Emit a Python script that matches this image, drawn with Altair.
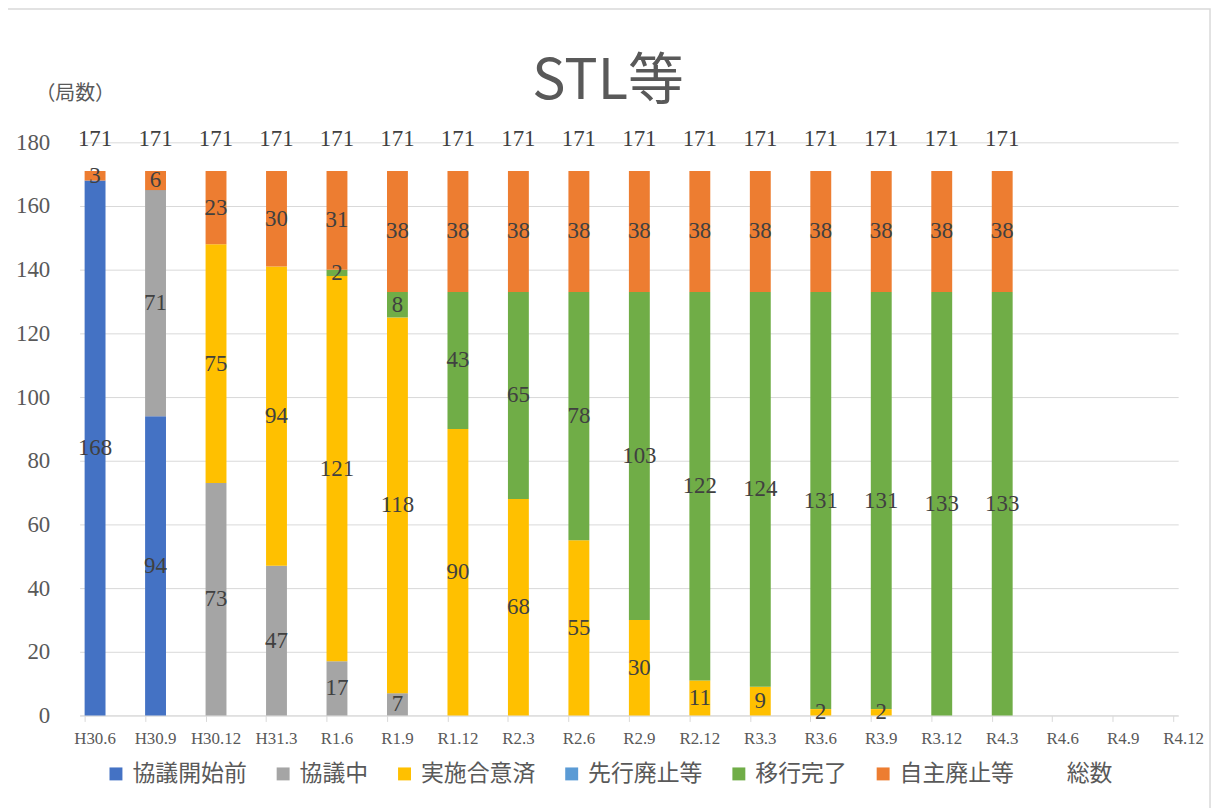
import json
import altair as alt
import pandas as pd

categories = ["H30.6", "H30.9", "H30.12", "H31.3", "R1.6", "R1.9", "R1.12", "R2.3", "R2.6",
              "R2.9", "R2.12", "R3.3", "R3.6", "R3.9", "R3.12", "R4.3", "R4.6", "R4.9", "R4.12"]

series_names = ["協議開始前", "協議中", "実施合意済", "先行廃止等", "移行完了", "自主廃止等"]
s_before = [168, 94, 0, 0, 0, 0, 0, 0, 0, 0, 0, 0, 0, 0, 0, 0, 0, 0, 0]
s_during = [0, 71, 73, 47, 17, 7, 0, 0, 0, 0, 0, 0, 0, 0, 0, 0, 0, 0, 0]
s_agreed = [0, 0, 75, 94, 121, 118, 90, 68, 55, 30, 11, 9, 2, 2, 0, 0, 0, 0, 0]
s_early = [0, 0, 0, 0, 0, 0, 0, 0, 0, 0, 0, 0, 0, 0, 0, 0, 0, 0, 0]
s_done = [0, 0, 0, 0, 2, 8, 43, 65, 78, 103, 122, 124, 131, 131, 133, 133, 0, 0, 0]
s_self = [3, 6, 23, 30, 31, 38, 38, 38, 38, 38, 38, 38, 38, 38, 38, 38, 0, 0, 0]
totals = [171, 171, 171, 171, 171, 171, 171, 171, 171, 171, 171, 171, 171, 171, 171, 171, None, None, None]

colors = ["#4472C4", "#A5A5A5", "#FFC000", "#5B9BD5", "#70AD47", "#ED7D31"]
total_name = "総数"
chart_title = "STL等"

series_values = [s_before, s_during, s_agreed, s_early, s_done, s_self]
rows = []
for k, (name, vals) in enumerate(zip(series_names, series_values)):
    for i, (c, v) in enumerate(zip(categories, vals)):
        rows.append({"i": i, "cat": c, "series": name, "order": k, "value": v})
df = pd.DataFrame(rows)
df_tot = pd.DataFrame({"i": list(range(len(categories))), "cat": categories, "total": totals}).dropna()

W, H = 1104, 576
PAD = {"left": 72, "top": 133, "right": 34, "bottom": 91}
LABEL_FONT = "Liberation Serif"
CJK = "Noto Sans CJK JP"

label_expr = json.dumps(categories) + "[datum.value]"

x_enc = alt.X("i:Q", scale=alt.Scale(domain=[0, len(categories) - 1], nice=False, zero=False),
              axis=alt.Axis(values=list(range(len(categories))), labelExpr=label_expr, title=None,
                            grid=False, domainColor="#d9d9d9", tickColor="#d9d9d9", tickSize=6,
                            labelFont=LABEL_FONT, labelFontSize=17, labelColor="#595959",
                            labelOffset=10, labelPadding=9))

base = alt.Chart(df).transform_stack(
    stack="value", groupby=["cat"], as_=["y0", "y1"], sort=[alt.SortField("order", order="ascending")]
).transform_calculate(mid="(datum.y0 + datum.y1) / 2")

bars = base.mark_bar(size=21, xOffset=10.5).encode(
    x=x_enc,
    y=alt.Y("y0:Q", scale=alt.Scale(domain=[0, 180], nice=False),
            axis=alt.Axis(values=list(range(0, 181, 20)), grid=True, gridColor="#d9d9d9",
                          domain=False, ticks=False, labelFont=LABEL_FONT, labelFontSize=23,
                          labelColor="#595959", labelPadding=30,
                          title="（局数）", titleAngle=0, titleX=-5, titleY=-49,
                          titleAlign="center", titleBaseline="middle", titleFont=CJK,
                          titleFontSize=20, titleColor="#595959", titleFontWeight="normal")),
    y2="y1:Q",
    color=alt.Color("series:N",
                    scale=alt.Scale(domain=series_names + [total_name], range=colors + ["transparent"]),
                    legend=alt.Legend(title=None, orient="none", legendX=25, legendY=623,
                                      direction="horizontal", columns=7, columnPadding=25,
                                      symbolType="square", symbolSize=169, symbolStrokeWidth=0,
                                      labelFont=CJK, labelFontSize=23, labelColor="#595959",
                                      labelOffset=5, padding=0)),
)

seg_labels = base.transform_filter("datum.value > 0").mark_text(
    dx=10.5, font=LABEL_FONT, fontSize=23, color="#404040", baseline="middle"
).encode(x="i:Q", y="mid:Q", text="value:Q")

tot_labels = alt.Chart(df_tot).mark_text(
    dx=10.5, dy=-32, font=LABEL_FONT, fontSize=23, color="#404040", baseline="middle"
).encode(x="i:Q", y="total:Q", text="total:Q")

border = alt.Chart(pd.DataFrame({"a": [0]})).mark_rect(
    fill="transparent", stroke="#d9d9d9", strokeWidth=1.5
).encode(x=alt.value(-73), x2=alt.value(W + 32), y=alt.value(-134), y2=alt.value(H + 100))

title_mark = alt.Chart(pd.DataFrame({"t": [chart_title]})).mark_text(
    font=CJK, fontSize=56, color="#595959", align="center", baseline="alphabetic"
).encode(x=alt.value(531), y=alt.value(-44), text="t:N")

chart = alt.layer(border, bars, seg_labels, tot_labels, title_mark).properties(
    width=W, height=H,
    autosize=alt.AutoSizeParams(type="none"),
    padding=PAD,
).configure_view(stroke=None)

chart.save("out.html", embed_options={"renderer": "svg", "actions": False})
